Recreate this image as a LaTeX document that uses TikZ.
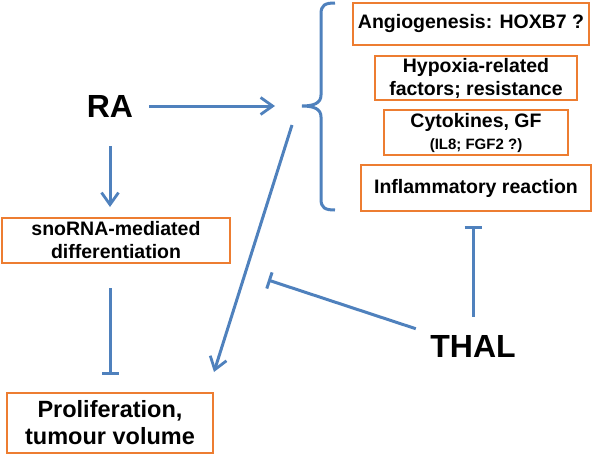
\documentclass[tikz,border=0pt]{standalone}
\usepackage{fontspec}
\setmainfont{Liberation Sans}
\usepackage{xcolor}
\usetikzlibrary{positioning, calc, arrows.meta}
\definecolor{linkblue}{RGB}{79,129,189}
\definecolor{boxorange}{RGB}{237,125,49}
\begin{document}
\begin{tikzpicture}[x=1pt,y=1pt,
    box/.style={draw=boxorange,line width=2pt,align=center,inner sep=2pt,
        font=\bfseries\fontsize{19.5}{23}\selectfont},
    big/.style={font=\bfseries\fontsize{32}{36}\selectfont,inner sep=2pt},
    link/.style={linkblue,line width=3pt},
    act/.style={link,-{Straight Barb[length=12pt,width=17pt,line width=2.8pt]}},
    inh/.style={link,-{Bar[width=17pt,line width=3pt]}}]
    \useasboundingbox (0,0) rectangle (600,-455);
    \node[big] (ra) at (110,-106) {RA};
    \node[big] (thal) at (473,-346) {THAL};
    \node[box,minimum width=236pt,minimum height=42pt] (angio) at (471,-24) {Angiogenesis: HOXB7 ?};
    \node[box,minimum width=202pt,minimum height=44pt] (hypo) at (476,-78) {Hypoxia-related\\factors; resistance};
    \node[box,minimum width=184pt,minimum height=45pt] (cyto) at (476,-132.5)
        {Cytokines, GF\\[-1pt]{\fontsize{15}{18}\selectfont (IL8; FGF2 ?)}};
    \node[box,minimum width=230pt,minimum height=46pt] (infl) at (476,-188) {Inflammatory reaction};
    \node[box,minimum width=228pt,minimum height=45pt] (sno) at (116,-240.5) {snoRNA-mediated\\differentiation};
    \node[box,minimum width=206pt,minimum height=60pt,font=\bfseries\fontsize{23.5}{27}\selectfont]
        (prol) at (110,-423) {Proliferation,\\tumour volume};
    \coordinate (tip) at (302,-106);
    \coordinate (fs) at (292,-125);
    \coordinate (tb) at (268,-280);
    \draw[link] (335,-3) .. controls (325,-3) and (321,-5) .. (321,-14) -- (321,-95)
        .. controls (321,-103) and (314,-106) .. (tip)
        .. controls (314,-106) and (321,-109) .. (321,-117) -- (321,-199)
        .. controls (321,-208) and (325,-210) .. (335,-210);
    \draw[act,shorten <=14pt,shorten >=27pt] (ra.east) -- (ra.east -| tip);
    \draw[act,shorten <=27pt,shorten >=10pt] (ra.south) -- (ra.south |- sno.north);
    \draw[inh,shorten <=24pt,shorten >=17pt] (prol.north |- sno.south) -- (prol.north);
    \draw[act] (fs) -- ($(prol.north east)+(0,20)$);
    \draw[inh,shorten <=13pt] (thal.north west) -- (tb);
    \draw[inh,shorten <=16pt,shorten >=14pt] (thal.north) -- (thal.north |- infl.south);
\end{tikzpicture}
\end{document}
